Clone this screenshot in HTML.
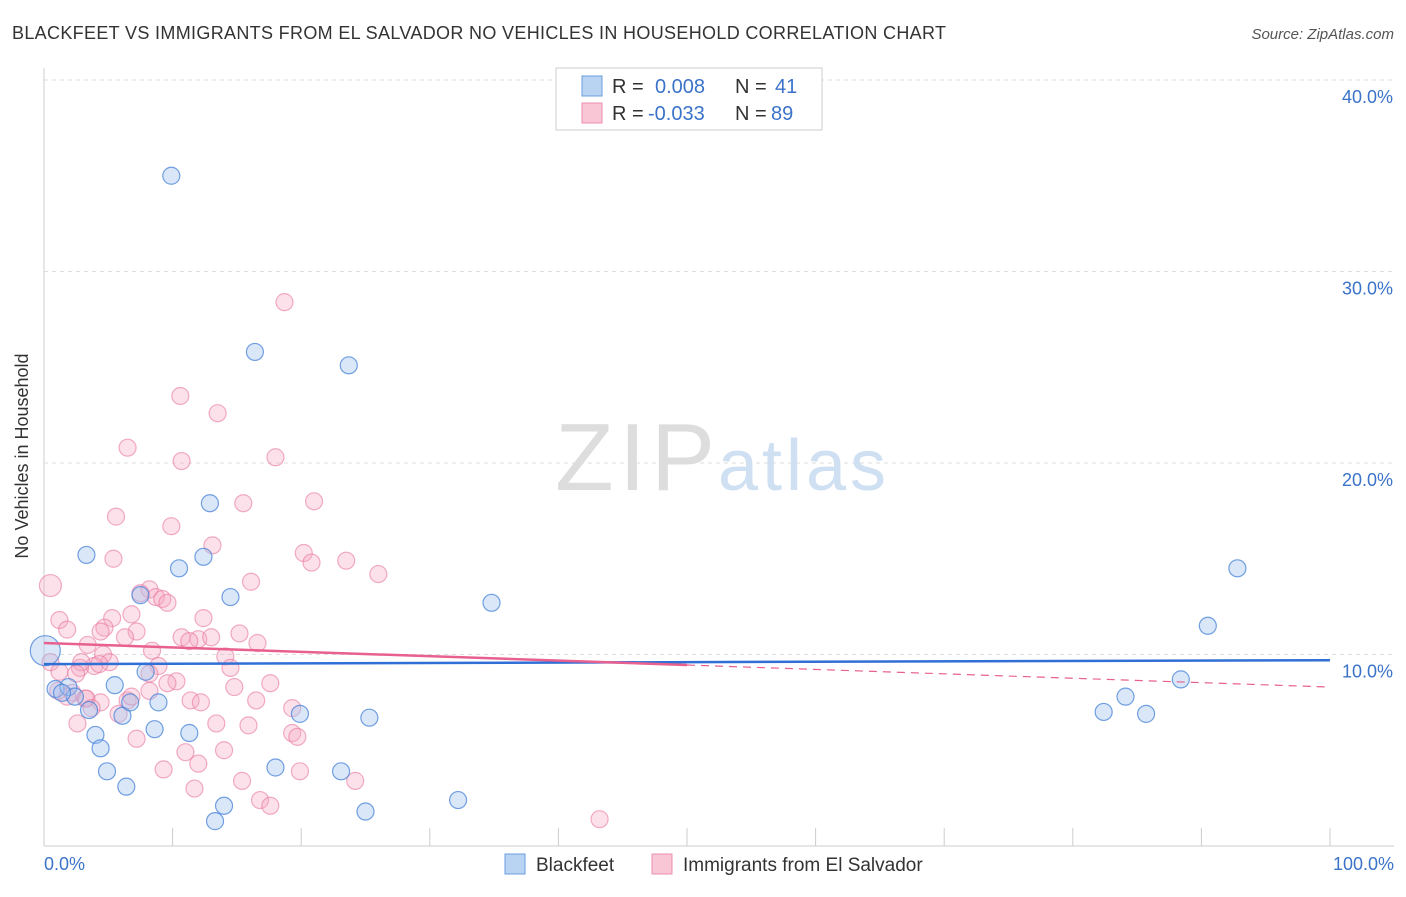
<!DOCTYPE html>
<html><head><meta charset="utf-8"><style>
body{margin:0;background:#fff;font-family:"Liberation Sans",sans-serif;}
svg text{font-family:"Liberation Sans",sans-serif;}
</style></head><body>
<svg width="1406" height="892">
<text x="12" y="39" font-size="18" fill="#333" textLength="934">BLACKFEET VS IMMIGRANTS FROM EL SALVADOR NO VEHICLES IN HOUSEHOLD CORRELATION CHART</text>
<text x="1394" y="39" font-size="15" fill="#555" font-style="italic" text-anchor="end">Source: ZipAtlas.com</text>
<g id="grid"></g>
<text x="555" y="490" font-size="96" fill="#ddd" textLength="160" font-family="Liberation Serif">ZIP</text>
<text x="718" y="490" font-size="72" fill="#cfe0f3" textLength="168">atlas</text>
<g id="pts"></g>
<g id="trend"></g>
<text x="28" y="456" font-size="18" fill="#333" transform="rotate(-90 28 456)" text-anchor="middle">No Vehicles in Household</text>
<text x="44" y="870" font-size="18" fill="#3b73c9">0.0%</text>
<text x="1394" y="870" font-size="18" fill="#3b73c9" text-anchor="end">100.0%</text>
<g>
<rect x="556" y="68" width="266" height="62" fill="#fff" stroke="#ccc"/>
<rect x="582" y="76" width="20" height="20" fill="#b9d3f3" stroke="#6a9ee0"/>
<rect x="582" y="103" width="20" height="20" fill="#f9c6d6" stroke="#ec8fb0"/>
<text x="612" y="93" font-size="20" fill="#333">R =</text>
<text x="655" y="93" font-size="20" fill="#3b73c9">0.008</text>
<text x="735" y="93" font-size="20" fill="#333">N =</text>
<text x="775" y="93" font-size="20" fill="#3b73c9">41</text>
<text x="612" y="120" font-size="20" fill="#333">R =</text>
<text x="648" y="120" font-size="20" fill="#3b73c9">-0.033</text>
<text x="735" y="120" font-size="20" fill="#333">N =</text>
<text x="771" y="120" font-size="20" fill="#3b73c9">89</text>
</g>
<g>
<rect x="505" y="854" width="20" height="20" fill="#b9d3f3" stroke="#6a9ee0"/>
<text x="536" y="871" font-size="19" fill="#333">Blackfeet</text>
<rect x="652" y="854" width="20" height="20" fill="#f9c6d6" stroke="#ec8fb0"/>
<text x="683" y="871" font-size="19" fill="#333">Immigrants from El Salvador</text>
</g>
</svg>
<script>
const yTicks=[10,20,30,40];
const xTickCount=10;
const blueX=[9.9,16.4,23.7,12.9,3.3,10.5,12.4,7.5,14.5,34.8,92.8,90.5,88.4,84.1,82.4,85.7,7.9,5.5,0.9,1.9,2.4,3.5,8.9,6.1,11.3,4.0,4.4,8.6,4.9,19.9,25.3,18.0,23.1,6.4,14.0,13.3,25.0,32.2,0.1,1.4,6.7];
const blueY=[35.0,25.8,25.1,17.9,15.2,14.5,15.1,13.1,13.0,12.7,14.5,11.5,8.7,7.8,7.0,6.9,9.1,8.4,8.2,8.3,7.8,7.1,7.5,6.8,5.9,5.8,5.1,6.1,3.9,6.9,6.7,4.1,3.9,3.1,2.1,1.3,1.8,2.4,10.2,8.0,7.5];
const pinkX=[18.7,10.6,13.5,6.5,10.7,18.0,5.6,9.9,15.5,21.0,13.1,20.2,20.8,23.5,26.0,5.4,0.5,8.2,7.5,8.7,9.2,9.6,16.1,1.2,6.8,5.3,4.7,4.4,1.8,12.4,7.2,6.3,3.4,8.4,10.7,12.0,11.3,13.0,15.2,16.6,14.1,14.5,17.6,4.6,5.1,3.9,2.8,0.5,1.2,2.9,4.3,2.5,8.9,8.2,1.1,2.2,3.2,4.4,1.8,6.5,6.8,3.3,2.6,3.7,5.8,10.3,8.2,11.4,9.6,12.2,14.8,16.5,19.3,13.4,15.9,7.2,11.0,14.0,19.3,19.7,9.3,12.0,15.4,19.9,24.2,11.7,16.8,17.6,43.2];
const pinkY=[28.4,23.5,22.6,20.8,20.1,20.3,17.2,16.7,17.9,18.0,15.7,15.3,14.8,14.9,14.2,15.0,13.6,13.4,13.2,13.0,12.9,12.7,13.8,11.8,12.1,11.9,11.4,11.2,11.3,11.9,11.2,10.9,10.5,10.2,10.9,10.8,10.7,10.9,11.1,10.6,9.9,9.3,8.5,10.0,9.6,9.4,9.3,9.6,9.1,9.6,9.5,9.0,9.4,9.0,8.1,8.0,7.7,7.5,7.8,7.6,7.8,7.7,6.4,7.2,6.9,8.6,8.1,7.6,8.5,7.5,8.3,7.6,7.2,6.4,6.3,5.6,4.9,5.0,5.9,5.7,4.0,4.3,3.4,3.9,3.4,3.0,2.4,2.1,1.4];
const X0=44,X1=1330,Y0=846,Y40=80;
const sx=v=>X0+(X1-X0)*v/100;
const sy=v=>Y0-(Y0-Y40)*v/40;
const NS='http://www.w3.org/2000/svg';
function mk(t,a,p){const e=document.createElementNS(NS,t);for(const k in a)e.setAttribute(k,a[k]);p.appendChild(e);return e;}
const grid=document.getElementById('grid');
mk('line',{x1:X0,y1:Y0,x2:1394,y2:Y0,stroke:'#ccc'},grid);
mk('line',{x1:X0,y1:68,x2:X0,y2:Y0,stroke:'#ccc'},grid);
for(const t of yTicks){
 const l=mk('line',{x1:X0,y1:sy(t),x2:1394,y2:sy(t),stroke:'#ddd','stroke-dasharray':'4,4'},grid);
 
 
 const tx=mk('text',{x:1393,y:sy(t)+23,'font-size':18,fill:'#3b73c9','text-anchor':'end'},grid);
 tx.textContent=t.toFixed(1)+'%';
 
 
}
for(let i=1;i<=xTickCount;i++){
 const x=sx(i*100/xTickCount);
 const l=mk('line',{x1:x,y1:828,x2:x,y2:Y0,stroke:'#ccc'},grid);
 
 
}
const pts=document.getElementById('pts');
pinkX.forEach((v,i)=>{
 const c=mk('circle',{cx:sx(v),cy:sy(pinkY[i]),r:(i==16?11:8.5),fill:'rgba(246,170,195,0.35)',stroke:'rgba(232,120,160,0.6)','stroke-width':1.2},pts);
 
 
});
blueX.forEach((v,i)=>{
 const c=mk('circle',{cx:sx(v),cy:sy(blueY[i]),r:(i==38?15:8.5),fill:'rgba(160,195,240,0.4)',stroke:'rgba(70,130,215,0.75)','stroke-width':1.2},pts);
 
 
});
const tr=document.getElementById('trend');
const bl=mk('line',{x1:sx(0),y1:sy(9.5),x2:sx(100),y2:sy(9.7),stroke:'#2f6fd6','stroke-width':2.5},tr);


const pA=10.6,pB=-0.023;
const ps=mk('line',{x1:sx(0),y1:sy(pA),x2:sx(50),y2:sy(pA+pB*50),stroke:'#e8608f','stroke-width':2.5},tr);


const pd=mk('line',{x1:sx(50),y1:sy(pA+pB*50),x2:sx(100),y2:sy(pA+pB*100),stroke:'#e8608f','stroke-width':1.2,'stroke-dasharray':'8,6'},tr);


</script>
</body></html>
